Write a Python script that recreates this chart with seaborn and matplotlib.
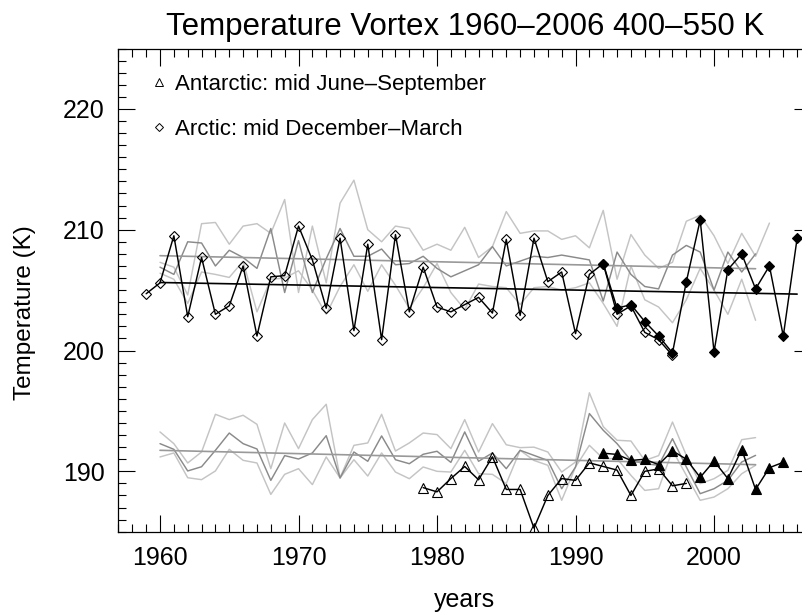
import numpy as np
import pandas as pd
import matplotlib
matplotlib.use("Agg")
import matplotlib.pyplot as plt
from matplotlib.lines import Line2D
from matplotlib.ticker import MultipleLocator
import seaborn as sns

# ---------------- data ----------------
# Arctic vortex temperature, mid December-March (open diamonds)
arctic_years = list(range(1959, 1998))
arctic_temp = [204.7, 205.6, 209.5, 202.8, 207.7, 203.0, 203.7, 207.0, 201.2, 206.1,
               206.2, 210.3, 207.5, 203.5, 209.3, 201.65, 208.8, 200.9, 209.6, 203.2,
               206.9, 203.6, 203.2, 203.8, 204.4, 203.1, 209.2, 202.9, 209.3, 205.7,
               206.5, 201.4, 206.3, 207.2, 203.0, 203.7, 201.5, 200.9, 199.6]

# Arctic, second record (filled diamonds)
arctic2_years = list(range(1992, 2007))
arctic2_temp = [207.2, 203.5, 203.8, 202.4, 201.2, 199.8, 205.7, 210.8, 199.9, 206.7,
                208.0, 205.1, 207.0, 201.2, 209.3]

# Antarctic vortex temperature, mid June-September (open triangles)
antarctic_years = list(range(1979, 1999))
antarctic_temp = [188.65, 188.3, 189.4, 190.4, 189.3, 191.2, 188.5, 188.5, 185.3, 188.0,
                  189.4, 189.25, 190.7, 190.4, 190.1, 188.0, 190.0, 190.2, 188.8, 189.0]

# Antarctic, second record (filled triangles)
antarctic2_years = list(range(1992, 2006))
antarctic2_temp = [191.5, 191.4, 190.9, 191.0, 190.55, 191.7, 191.0, 189.5, 190.85, 189.4,
                   191.8, 188.5, 190.3, 190.75]

# Reanalysis envelope, Arctic (upper, mean, lower)
rean_years = list(range(1960, 2004))
arctic_upper_years = list(range(1960, 2005))
arctic_upper = [207.3, 206.9, 204.6, 210.5, 210.6, 208.8, 210.3, 210.5, 209.7, 212.5,
                204.8, 210.3, 205.6, 212.2, 214.1, 210.0, 209.0, 210.3, 210.1, 208.3,
                208.8, 208.3, 210.2, 207.7, 208.6, 211.5, 209.7, 209.9, 209.9, 209.2,
                209.5, 208.5, 211.6, 205.9, 209.6, 207.9, 206.8, 207.3, 210.7, 211.2,
                209.5, 207.2, 209.7, 207.8, 210.55]
arctic_mean = [206.9, 206.3, 209.0, 208.9, 207.0, 208.3, 207.7, 206.8, 210.1, 204.8,
               209.1, 204.8, 207.6, 210.1, 207.8, 207.8, 208.4, 207.1, 207.2, 207.8,
               206.8, 206.1, 206.6, 207.1, 208.6, 207.0, 207.4, 207.8, 207.7, 207.9,
               207.7, 207.5, 204.1, 208.15, 206.3, 205.3, 205.1, 207.9, 208.7, 208.15,
               205.0, 208.15, 206.5, 208.0]
arctic_lower = [206.4, 205.9, 203.9, 206.5, 206.3, 206.05, 207.4, 203.2, 205.9, 206.0,
                206.6, 205.0, 203.0, 205.3, 207.1, 204.9, 207.1, 205.4, 203.5, 205.2,
                207.2, 204.8, 203.4, 205.5, 205.3, 205.2, 203.8, 205.2, 205.3, 205.0,
                205.2, 205.6, 203.9, 202.0, 207.0, 204.2, 203.6, 202.3, 204.2, 206.8,
                205.0, 203.0, 205.9, 202.5]

# Reanalysis envelope, Antarctic (upper, mean, lower)
antarctic_upper = [193.26, 192.29, 190.69, 191.6, 194.72, 194.28, 194.64, 193.89, 190.22, 194.0,
                   191.88, 194.28, 195.55, 189.47, 192.15, 192.35, 194.72, 191.68, 192.35, 193.17,
                   193.04, 191.88, 194.28, 191.6, 193.95, 192.2, 191.96, 192.0, 191.6, 189.94,
                   190.77, 196.5, 193.7, 192.57, 192.51, 190.9, 191.3, 194.08, 191.32, 188.98,
                   189.39, 190.08, 192.62, 192.79]
antarctic_mean = [192.29, 191.82, 190.03, 190.38, 191.74, 193.17, 192.29, 191.85, 189.25, 191.3,
                  191.02, 191.52, 192.95, 189.45, 191.6, 190.83, 192.93, 190.96, 190.63, 191.41,
                  191.66, 190.74, 193.26, 190.83, 191.52, 190.22, 191.74, 191.32, 190.9, 188.56,
                  190.36, 194.78, 193.4, 192.29, 190.9, 190.63, 190.5, 192.7, 190.36, 188.15,
                  188.56, 189.25, 190.77, 191.32]
antarctic_lower = [191.19, 191.52, 189.47, 189.31, 190.03, 191.82, 190.91, 190.69, 188.09, 189.75,
                   190.22, 188.9, 191.19, 189.45, 190.96, 189.61, 191.52, 189.94, 189.39, 190.36,
                   190.0, 189.94, 191.74, 189.8, 189.75, 188.98, 191.74, 190.9, 190.5, 187.6,
                   190.36, 192.15, 191.05, 191.05, 189.67, 188.42, 188.56, 191.74, 189.67, 187.6,
                   187.87, 188.56, 189.8, 190.5]

# Linear trends (end points)
arctic_trend_years = [1960, 2006]
arctic_trend = [205.63, 204.67]
rean_trend_years = [1960, 2003]
arctic_rean_trend = [207.85, 206.77]
antarctic_rean_trend = [191.74, 190.55]

title = "Temperature Vortex 1960\u20132006 400\u2013550 K"
legend_labels = ["Antarctic: mid June\u2013September", "Arctic: mid December\u2013March"]

# ---------------- style ----------------
sns.set_theme(style="ticks")
plt.rcParams["font.family"] = ["Liberation Sans", "DejaVu Sans"]
plt.rcParams["axes.edgecolor"] = "black"
plt.rcParams["axes.linewidth"] = 0.9
plt.rcParams["text.color"] = "black"

LIGHT = "#c4c4c4"
DARK = "#8a8a8a"
TREND = "#999999"
LW = 1.05

fig = plt.figure(figsize=(8.02, 6.14), dpi=100)
ax = fig.add_axes([0.1477, 0.134, 1.0112 - 0.1477, 0.921 - 0.134])


def line(x, y, color, lw=LW, **kw):
    sns.lineplot(x=x, y=y, ax=ax, color=color, linewidth=lw, estimator=None,
                 sort=False, **kw)


# envelopes
for up, mean, lo, upy in [(arctic_upper, arctic_mean, arctic_lower, arctic_upper_years),
                          (antarctic_upper, antarctic_mean, antarctic_lower, rean_years)]:
    line(upy, up, LIGHT)
    line(rean_years, lo, LIGHT)
    line(rean_years, mean, DARK)

# trends
line(rean_trend_years, arctic_rean_trend, TREND, lw=1.2)
line(rean_trend_years, antarctic_rean_trend, TREND, lw=1.2)
line(arctic_trend_years, arctic_trend, "black", lw=1.2)

# observations
common = dict(markeredgecolor="black", markeredgewidth=0.8)
line(arctic_years, arctic_temp, "black", marker="D", markersize=5.0,
     markerfacecolor="none", **common)
line(arctic2_years, arctic2_temp, "black", marker="D", markersize=5.0,
     markerfacecolor="black", **common)
line(antarctic_years, antarctic_temp, "black", marker="^", markersize=6.5,
     markerfacecolor="none", **common)
line(antarctic2_years, antarctic2_temp, "black", marker="^", markersize=6.5,
     markerfacecolor="black", **common)

# axes
ax.set_xlim(1957, 2007)
ax.set_ylim(185, 225)
ax.xaxis.set_major_locator(MultipleLocator(10))
ax.xaxis.set_minor_locator(MultipleLocator(1))
ax.yaxis.set_major_locator(MultipleLocator(10))
ax.yaxis.set_minor_locator(MultipleLocator(1))
ax.tick_params(which="both", direction="in", top=True, right=True,
               color="black", width=0.8)
ax.tick_params(which="major", length=12.5, labelsize=18, pad=10, labelcolor="black")
ax.tick_params(which="minor", length=5.8)
for s in ax.spines.values():
    s.set_visible(True)
    s.set_color("black")
ax.set_xlabel("")
ax.set_ylabel("")

ax.set_title(title, fontsize=22.5, pad=10, color="black")
fig.text(464 / 802, 1 - 600 / 614, "years", fontsize=18, ha="center", va="center",
         color="black")
fig.text(25 / 802, 1 - 313 / 614, "Temperature (K)", fontsize=17.5, ha="center",
         va="center", rotation=90, color="black")

handles = [Line2D([], [], ls="none", marker="^", ms=6.0, mfc="none", mec="black", mew=0.7),
           Line2D([], [], ls="none", marker="D", ms=4.4, mfc="none", mec="black", mew=0.7)]
ax.legend(handles, legend_labels, loc="upper left", bbox_to_anchor=(0.046, 0.948),
          frameon=False, fontsize=16, handlelength=0.8, handletextpad=0.3,
          labelspacing=1.1, borderpad=0, borderaxespad=0, labelcolor="black")

fig.savefig("out.png", dpi=100, facecolor="white")
